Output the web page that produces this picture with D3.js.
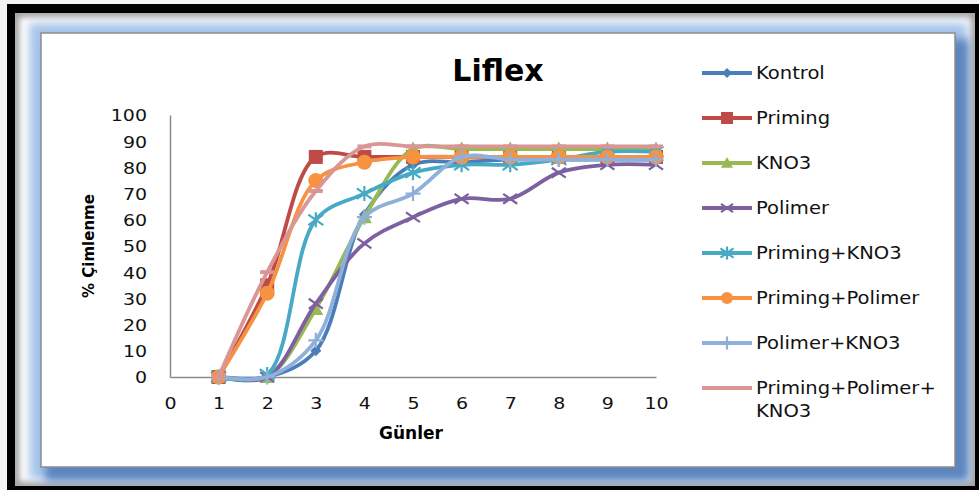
<!DOCTYPE html>
<html>
<head>
<meta charset="utf-8">
<script src="https://cdn.jsdelivr.net/npm/d3@7"></script>
<style>
  body { margin: 0; background: #ffffff; }
  svg { display: block; }
</style>
</head>
<body>
<svg id="chart" width="979" height="490"></svg>
<script>
// Germination data (% Çimlenme) per day (Günler)
const days = [1, 2, 3, 4, 5, 6, 7, 8, 9, 10];
const seriesNames = ["Kontrol", "Priming", "KNO3", "Polimer", "Priming+KNO3",
  "Priming+Polimer", "Polimer+KNO3", "Priming+Polimer+KNO3"];
const kontrol        = [0, 0, 10, 62, 81, 82, 83, 83, 83, 83];
const priming        = [0, 35, 84, 84, 84, 84, 84, 84, 84, 84];
const kno3           = [0, 0, 26, 61, 87, 87, 87, 87, 87, 87];
const polimer        = [0, 0, 28, 51, 61, 68, 68, 78, 81, 81];
const primingKno3    = [0, 1, 60, 70, 78, 81, 81, 83, 86, 86];
const primingPolimer = [0, 32, 75, 82, 84, 84, 84, 84, 84, 84];
const polimerKno3    = [0, 0, 14, 61, 70, 84, 83, 83, 83, 83];
const primPolKno3    = [0, 40, 71, 88, 88, 88, 88, 88, 88, 88];
const xTicks = [0, 1, 2, 3, 4, 5, 6, 7, 8, 9, 10];
const yTicks = [0, 10, 20, 30, 40, 50, 60, 70, 80, 90, 100];

const seriesValues = [kontrol, priming, kno3, polimer, primingKno3,
  primingPolimer, polimerKno3, primPolKno3];
const colors = ["#4A7EBB", "#BE4B48", "#98B954", "#7D60A0", "#46AAC5",
  "#F69240", "#8EB0DA", "#DA9694"];
const markers = ["diamond", "square", "triangle", "x", "asterisk", "circle", "plus", "dash"];

const svg = d3.select("#chart");
const defs = svg.append("defs");
defs.append("filter").attr("id", "soft").attr("x", "-20%").attr("y", "-20%")
  .attr("width", "140%").attr("height", "140%")
  .append("feGaussianBlur").attr("stdDeviation", 4);
defs.append("filter").attr("id", "softer").attr("x", "-20%").attr("y", "-20%")
  .attr("width", "140%").attr("height", "140%")
  .append("feGaussianBlur").attr("stdDeviation", 3);

// ---- outer frame ----
svg.append("rect").attr("width", 979).attr("height", 490).attr("fill", "#f4f4f4");
svg.append("rect").attr("x", 7).attr("y", 4).attr("width", 972).attr("height", 486).attr("fill", "#000");
const inner = svg.append("svg").attr("x", 15).attr("y", 13).attr("width", 960).attr("height", 473);
inner.append("rect").attr("width", 960).attr("height", 473).attr("fill", "#ffffff");
// inner shading along the black edge
inner.append("rect").attr("x", 0).attr("y", 0).attr("width", 960).attr("height", 473)
  .attr("fill", "none").attr("stroke", "#9a9a9a").attr("stroke-width", 8)
  .attr("filter", "url(#softer)");

// blue glow round the chart panel
const panel = { x: 41, y: 33, w: 914, h: 434 };
const glow = inner.append("g").attr("transform", "translate(-15,-13)");
glow.append("rect").attr("x", panel.x - 12).attr("y", panel.y - 10)
  .attr("width", panel.w + 24).attr("height", panel.h + 22)
  .attr("fill", "#a9c6ea").attr("filter", "url(#soft)");
glow.append("rect").attr("x", panel.x + 4).attr("y", panel.y + 6)
  .attr("width", panel.w + 10).attr("height", panel.h + 8)
  .attr("fill", "#5d86bf").attr("filter", "url(#soft)");
svg.append("rect").attr("x", panel.x).attr("y", panel.y)
  .attr("width", panel.w).attr("height", panel.h)
  .attr("fill", "#ffffff").attr("stroke", "#8c8c8c").attr("stroke-width", 1.5);

// ---- scales ----
const x = d3.scaleLinear().domain([0, 10]).range([170, 656]);
const y = d3.scaleLinear().domain([0, 100]).range([377, 115]);

const FONT = "'DejaVu Sans', sans-serif";
const STRETCH = 1.15;

// ---- axes ----
const yAxis = svg.append("g").attr("transform", `translate(${x(0)},0)`)
  .call(d3.axisLeft(y).tickValues(yTicks).tickSize(0).tickPadding(0));
yAxis.select(".domain").attr("stroke", "#8a8a8a").attr("stroke-width", 1.5);
yAxis.selectAll("text")
  .attr("font-family", FONT).attr("font-size", 16.5).attr("fill", "#111")
  .attr("x", -20).attr("dy", "0.36em")
  .attr("transform", `scale(${STRETCH},1)`);

const xAxis = svg.append("g").attr("transform", `translate(0,${y(0)})`)
  .call(d3.axisBottom(x).tickValues(xTicks).tickSize(0).tickPadding(0));
xAxis.select(".domain").attr("stroke", "#8a8a8a").attr("stroke-width", 1.5);
xAxis.selectAll(".tick").each(function (d) {
  const t = d3.select(this).select("text");
  t.attr("font-family", FONT).attr("font-size", 16.5).attr("fill", "#111")
    .attr("y", 26).attr("dy", "0.36em")
    .attr("transform", `scale(${STRETCH},1)`);
});

// ---- titles ----
svg.append("text").attr("x", 498).attr("y", 81).attr("text-anchor", "middle")
  .attr("font-family", FONT).attr("font-weight", "bold").attr("font-size", 30)
  .attr("fill", "#000").text("Liflex");
svg.append("text").attr("x", 411).attr("y", 439).attr("text-anchor", "middle")
  .attr("font-family", FONT).attr("font-weight", "bold").attr("font-size", 17)
  .attr("fill", "#000").text("Günler");
svg.append("text").attr("transform", "translate(94,246) rotate(-90)")
  .attr("text-anchor", "middle")
  .attr("font-family", FONT).attr("font-weight", "bold").attr("font-size", 15)
  .attr("fill", "#000").text("% Çimlenme");

// ---- markers ----
function drawMarker(g, type, color, s) {
  const h = s / 2;
  switch (type) {
    case "diamond":
      g.append("path").attr("d", `M0,${-h}L${h},0L0,${h}L${-h},0Z`).attr("fill", color);
      break;
    case "square":
      g.append("rect").attr("x", -h).attr("y", -h).attr("width", s).attr("height", s).attr("fill", color);
      break;
    case "triangle":
      g.append("path").attr("d", `M0,${-h}L${h},${h * 0.8}L${-h},${h * 0.8}Z`).attr("fill", color);
      break;
    case "circle":
      g.append("circle").attr("r", h).attr("fill", color);
      break;
    case "x":
      g.append("path").attr("d", `M${-h},${-h * 0.7}L${h},${h * 0.7}M${-h},${h * 0.7}L${h},${-h * 0.7}`)
        .attr("stroke", color).attr("stroke-width", 2.2).attr("fill", "none");
      break;
    case "asterisk":
      g.append("path").attr("d", `M${-h},${-h * 0.7}L${h},${h * 0.7}M${-h},${h * 0.7}L${h},${-h * 0.7}M0,${-h}L0,${h}`)
        .attr("stroke", color).attr("stroke-width", 2.2).attr("fill", "none");
      break;
    case "plus":
      g.append("path").attr("d", `M${-h},0L${h},0M0,${-h}L0,${h}`)
        .attr("stroke", color).attr("stroke-width", 2.2).attr("fill", "none");
      break;
    case "dash":
      g.append("rect").attr("x", -h).attr("y", -2).attr("width", s).attr("height", 4).attr("fill", color);
      break;
  }
}

const markerSize = { diamond: 11, square: 14, triangle: 15, x: 14, asterisk: 15, circle: 15, plus: 15, dash: 14 };
const legendSize = { diamond: 10, square: 12, triangle: 12, x: 12, asterisk: 13, circle: 12, plus: 13, dash: 0 };

// smoothed series lines
const line = d3.line()
  .x((d, i) => x(days[i]))
  .y(d => y(d))
  .curve(d3.curveCatmullRom.alpha(0.5));

seriesValues.forEach((vals, k) => {
  const g = svg.append("g");
  g.append("path").datum(vals).attr("d", line)
    .attr("fill", "none").attr("stroke", colors[k]).attr("stroke-width", 3.8)
    .attr("stroke-linejoin", "round").attr("stroke-linecap", "round");
  vals.forEach((v, i) => {
    const m = g.append("g").attr("transform", `translate(${x(days[i])},${y(v)})`);
    drawMarker(m, markers[k], colors[k], markerSize[markers[k]]);
  });
});

// ---- legend ----
const legend = svg.append("g");
const legendTop = 73, legendStep = 45;
seriesNames.forEach((name, k) => {
  const cy = legendTop + k * legendStep;
  const g = legend.append("g");
  g.append("line").attr("x1", 702).attr("x2", 752).attr("y1", cy).attr("y2", cy)
    .attr("stroke", colors[k]).attr("stroke-width", 3.8);
  if (legendSize[markers[k]] > 0) {
    const m = g.append("g").attr("transform", `translate(727,${cy})`);
    drawMarker(m, markers[k], colors[k], legendSize[markers[k]]);
  }
  const lines = name === "Priming+Polimer+KNO3" ? ["Priming+Polimer+", "KNO3"] : [name];
  lines.forEach((txt, j) => {
    g.append("text")
      .attr("transform", `translate(756,${cy + j * 23}) scale(${STRETCH},1)`)
      .attr("dy", "0.36em")
      .attr("font-family", FONT).attr("font-size", 17).attr("fill", "#111")
      .text(txt);
  });
});
</script>
</body>
</html>
